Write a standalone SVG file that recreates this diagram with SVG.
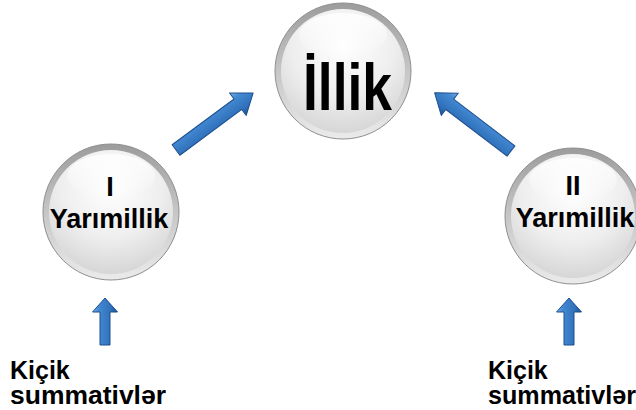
<svg xmlns="http://www.w3.org/2000/svg" width="636" height="410" viewBox="0 0 636 410">
<defs>
<linearGradient id="rim" x1="0" y1="0" x2="0" y2="1">
<stop offset="0" stop-color="#9c9c9c"/>
<stop offset="0.5" stop-color="#c6c6c6"/>
<stop offset="1" stop-color="#ebebeb"/>
</linearGradient>
<radialGradient id="face" cx="0.5" cy="0.3" r="0.75">
<stop offset="0" stop-color="#ffffff"/>
<stop offset="0.55" stop-color="#eeeeee"/>
<stop offset="1" stop-color="#d2d2d2"/>
</radialGradient>
<linearGradient id="gloss" x1="0" y1="0" x2="0" y2="1">
<stop offset="0" stop-color="#ffffff" stop-opacity="0.85"/>
<stop offset="1" stop-color="#ffffff" stop-opacity="0"/>
</linearGradient>
<linearGradient id="blue" x1="0" y1="0" x2="0" y2="1">
<stop offset="0" stop-color="#7ab2ea"/>
<stop offset="0.25" stop-color="#4389d2"/>
<stop offset="0.75" stop-color="#2f70ba"/>
<stop offset="1" stop-color="#1c4c8a"/>
</linearGradient>
<g id="ball">
<circle r="68" fill="url(#rim)" stroke="#8f8f8f" stroke-width="1"/>
<circle r="62" fill="url(#face)"/>
<ellipse cx="0" cy="-36" rx="44" ry="22" fill="url(#gloss)"/>
</g>
</defs>
<style>
.lbl{font-family:"Liberation Sans",Arial,sans-serif;font-weight:bold;fill:#000;}
.big{font-family:"Liberation Sans Narrow","Liberation Sans",Arial,sans-serif;font-weight:bold;fill:#000;}
.arr{fill:url(#blue);stroke:#1e4f8e;stroke-width:1;stroke-linejoin:round;}
</style>
<rect width="636" height="410" fill="#ffffff"/>

<g id="connectors">
<path class="arr" transform="translate(176,150) rotate(-36.5)" d="M0,-6.5 L77,-6.5 L77,-14 L96,0 L77,14 L77,6.5 L0,6.5 Z"/>
<path class="arr" transform="translate(511,151) rotate(-142.7) scale(1,-1)" d="M0,-6.5 L77,-6.5 L77,-14 L96,0 L77,14 L77,6.5 L0,6.5 Z"/>
<path class="arr" transform="translate(105,345) rotate(-90)" d="M0,-5 L33,-5 L33,-12.5 L47,0 L33,12.5 L33,5 L0,5 Z"/>
<path class="arr" transform="translate(569,345) rotate(-90)" d="M0,-5 L33,-5 L33,-12.5 L47,0 L33,12.5 L33,5 L0,5 Z"/>
</g>

<g id="node-illik">
<use href="#ball" x="343" y="71"/>
<text class="big" x="303" y="110" font-size="66" textLength="89" lengthAdjust="spacingAndGlyphs">İllik</text>
</g>

<g id="node-1">
<use href="#ball" x="111" y="212"/>
<text class="lbl" x="110" y="196" font-size="27" text-anchor="middle">I</text>
<text class="lbl" x="109" y="228" font-size="27" text-anchor="middle">Yarımillik</text>
</g>

<g id="node-2">
<use href="#ball" x="573" y="216"/>
<text class="lbl" x="573" y="195" font-size="27" text-anchor="middle">II</text>
<text class="lbl" x="575" y="227" font-size="27" text-anchor="middle">Yarımillik</text>
</g>

<g id="label-left">
<text class="lbl" x="10" y="379" font-size="25">Kiçik</text>
<text class="lbl" x="10" y="404" font-size="25" textLength="156" lengthAdjust="spacingAndGlyphs">summativlər</text>
</g>

<g id="label-right">
<text class="lbl" x="488" y="379" font-size="25">Kiçik</text>
<text class="lbl" x="488" y="404" font-size="25" textLength="148" lengthAdjust="spacingAndGlyphs">summativlər</text>
</g>
</svg>
